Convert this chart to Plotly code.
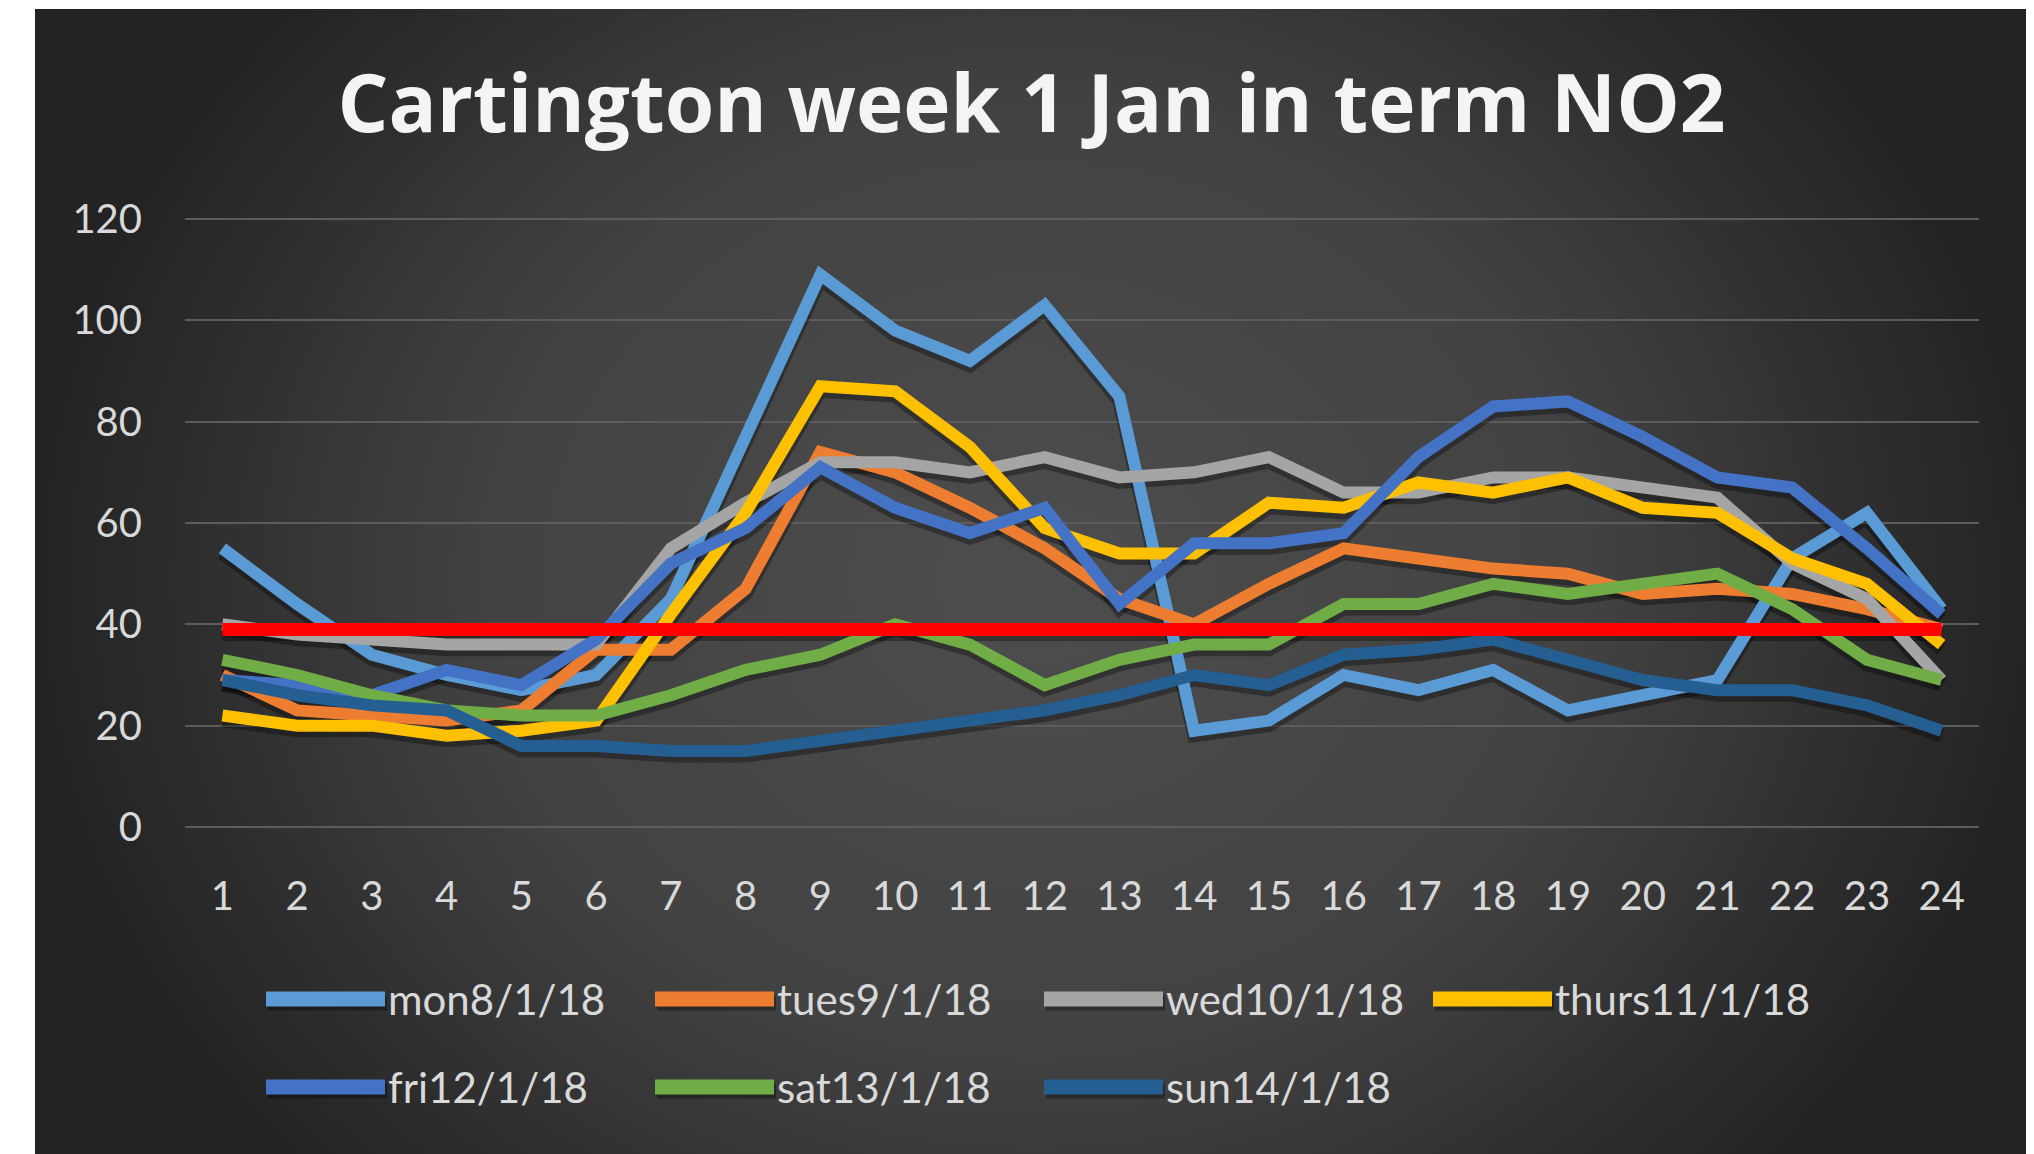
import base64
import plotly.graph_objects as go

# ---------------- data ----------------
hours = list(range(1, 25))
hour_labels = [str(h) for h in hours]

mon = [55, 44, 34, 30, 27, 30, 45, 77, 109, 98, 92, 103, 85, 19, 21, 30, 27, 31, 23, 26, 29, 53, 62, 43]
tues = [30, 23, 22, 21, 23, 35, 35, 47, 74, 70, 63, 55, 45, 40, 48, 55, 53, 51, 50, 46, 47, 46, 43, 39]
wed = [40, 38, 37, 36, 36, 36, 55, 64, 72, 72, 70, 73, 69, 70, 73, 66, 66, 69, 69, 67, 65, 52, 45, 29]
thurs = [22, 20, 20, 18, 19, 21, 42, 62, 87, 86, 75, 59, 54, 54, 64, 63, 68, 66, 69, 63, 62, 53, 48, 36]
fri = [29, 28, 26, 31, 28, 37, 52, 59, 71, 63, 58, 63, 44, 56, 56, 58, 73, 83, 84, 77, 69, 67, 55, 42]
sat = [33, 30, 26, 23, 22, 22, 26, 31, 34, 40, 36, 28, 33, 36, 36, 44, 44, 48, 46, 48, 50, 43, 33, 29]
sun = [29, 26, 24, 23, 16, 16, 15, 15, 17, 19, 21, 23, 26, 30, 28, 34, 35, 37, 33, 29, 27, 27, 24, 19]
limit = [39, 39, 39, 39, 39, 39, 39, 39, 39, 39, 39, 39, 39, 39, 39, 39, 39, 39, 39, 39, 39, 39, 39, 39]

series_names = ["mon8/1/18", "tues9/1/18", "wed10/1/18", "thurs11/1/18",
                "fri12/1/18", "sat13/1/18", "sun14/1/18"]
series_values = [mon, tues, wed, thurs, fri, sat, sun]
series_colors = ["#5B9BD5", "#ED7D31", "#A5A5A5", "#FFC000", "#4472C4", "#70AD47", "#255E91"]
limit_color = "#FF0000"

title_text = "Cartington week 1 Jan in term NO2"
y_ticks = [0, 20, 40, 60, 80, 100, 120]

# ---------------- layout geometry (pixels) ----------------
OFF = 8                      # default body margin of the html page
W, H = 2034 - OFF, 1154 - OFF
ML, MR, MT, MB = 177, 55, 209, 325
PW = W - ML - MR
PH = H - MT - MB
Y_RANGE = [-0.4, 120.4]
X_RANGE = [0.5, 24.5]
SHADOW_DY = 0.9              # shadow offset in data units (~4-5 px)


def fx(px):
    return (px - OFF - ML) / PW


def fy(py):
    return (H - MB - (py - OFF)) / PH


FONT = "Lato"
TXT = "#d9d9d9"
SHADOW = "rgba(0,0,0,0.33)"

fig = go.Figure()

# shadows on the (hidden, slightly shifted) base axis -> drawn underneath
for vals in series_values + [limit]:
    fig.add_trace(go.Scatter(x=hours, y=vals, mode="lines", yaxis="y",
                             line=dict(color=SHADOW, width=14),
                             showlegend=False, hoverinfo="skip"))

# main series on the visible overlaying axis
for name, vals, col in zip(series_names, series_values, series_colors):
    fig.add_trace(go.Scatter(x=hours, y=vals, mode="lines", name=name, yaxis="y2",
                             line=dict(color=col, width=12),
                             showlegend=False, hoverinfo="x+y+name"))

fig.add_trace(go.Scatter(x=hours, y=limit, mode="lines", name="limit", yaxis="y2",
                         line=dict(color=limit_color, width=13),
                         showlegend=False))

# background: radial gradient via svg image
svg = ('<svg xmlns="http://www.w3.org/2000/svg" width="2000" height="1145" '
       'preserveAspectRatio="none"><defs>'
       '<radialGradient id="g" cx="0.5" cy="0.5" r="0.5" '
       'gradientTransform="translate(0.5,0.5) scale(1,1.5) translate(-0.5,-0.5)">'
       '<stop offset="0" stop-color="#4d4d4d"/>'
       '<stop offset="0.55" stop-color="#424242"/>'
       '<stop offset="1" stop-color="#232323"/>'
       '</radialGradient></defs>'
       '<rect width="2000" height="1145" fill="url(#g)"/></svg>')
src = "data:image/svg+xml;base64," + base64.b64encode(svg.encode()).decode()
bg_left, bg_top = 35, 9
fig.add_layout_image(dict(source=src, xref="paper", yref="paper",
                          x=fx(bg_left), y=fy(bg_top),
                          sizex=(2034 - bg_left) / PW, sizey=(1154 - bg_top) / PH,
                          sizing="stretch", xanchor="left", yanchor="top",
                          layer="below"))

title_cx, title_cy = 1031.5, 104

# custom legend (long line swatches like the original)
shapes = []
annotations = []
col_w, row_h = 389, 88
leg_x0, leg_y0, sw_len = 266, 999, 119
for i, (name, col) in enumerate(zip(series_names, series_colors)):
    r, c = divmod(i, 4)
    x0 = leg_x0 + c * col_w
    y = leg_y0 + r * row_h
    shapes.append(dict(type="line", xref="paper", yref="paper",
                       x0=fx(x0 + 2), x1=fx(x0 + sw_len + 2), y0=fy(y + 4), y1=fy(y + 4),
                       line=dict(color=SHADOW, width=15)))
    shapes.append(dict(type="line", xref="paper", yref="paper",
                       x0=fx(x0), x1=fx(x0 + sw_len), y0=fy(y), y1=fy(y),
                       line=dict(color=col, width=15)))
    annotations.append(dict(xref="paper", yref="paper", x=fx(x0 + sw_len + 1), y=fy(y),
                            xanchor="left", yanchor="middle", showarrow=False,
                            text=name, font=dict(family=FONT, size=42, color=TXT)))

fig.update_layout(
    width=W, height=H,
    margin=dict(l=ML, r=MR, t=MT, b=MB, pad=0),
    paper_bgcolor="white",
    plot_bgcolor="rgba(0,0,0,0)",
    title=dict(text=title_text, x=(title_cx - OFF) / W, y=1 - (title_cy - OFF) / H,
               xanchor="center", yanchor="middle", xref="container", yref="container",
               font=dict(family="Open Sans", size=80, color="#f4f4f4", weight="bold")),
    shapes=shapes,
    annotations=annotations,
    showlegend=False,
    xaxis=dict(range=X_RANGE, tickmode="array", tickvals=hours, ticktext=hour_labels,
               showgrid=False, zeroline=False, showline=False, ticks="",
               ticklabelstandoff=40,
               tickfont=dict(family=FONT, size=40, color=TXT)),
    yaxis=dict(range=[Y_RANGE[0] + SHADOW_DY, Y_RANGE[1] + SHADOW_DY],
               visible=False, showgrid=False, zeroline=False),
    yaxis2=dict(overlaying="y", side="left", range=Y_RANGE, tickmode="array",
                tickvals=y_ticks,
                showgrid=True, gridcolor="#5c5c5c", gridwidth=2,
                zeroline=False, showline=False, ticks="",
                ticklabelstandoff=42,
                tickfont=dict(family=FONT, size=40, color=TXT)),
)

fig.write_html("out.html")
